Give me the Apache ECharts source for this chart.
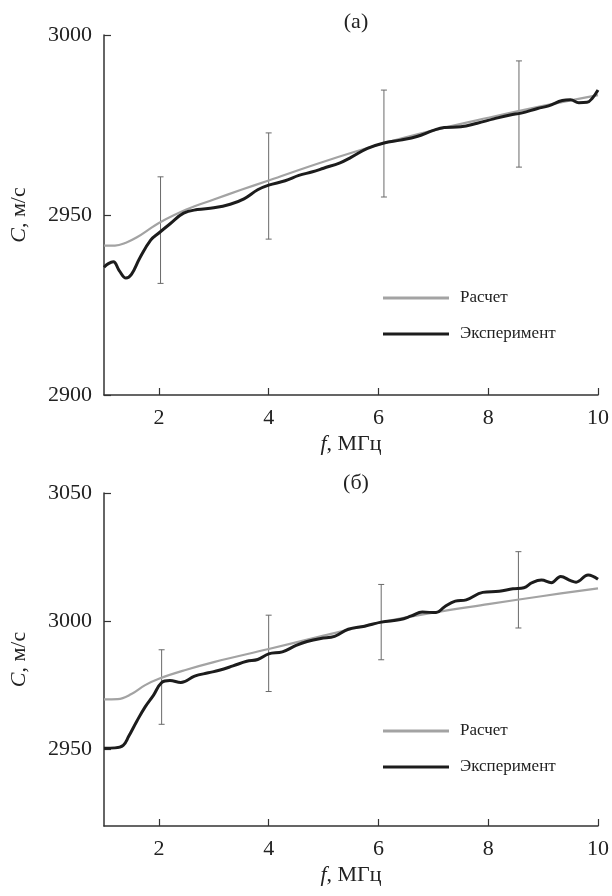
<!DOCTYPE html>
<html lang="ru">
<head>
    <meta charset="UTF-8">
    <title>C(f)</title>
    <script src="https://cdn.jsdelivr.net/npm/echarts@6/dist/echarts.min.js"></script>
    <style>
        body { margin: 0; background: #fff; }
        #chart { width: 612px; height: 896px; }
    </style>
</head>
<body>
    <div id="chart"></div>
    <script>
        // values: [f, C]
        const calcA = [[1, 2941.5], [1.2, 2941.5], [1.4, 2942.3], [1.6, 2943.8], [1.8, 2945.8], [2, 2947.8],
            [2.5, 2951.5], [3, 2954.3], [3.5, 2957], [4, 2959.6], [5, 2964.8], [6, 2969.5], [7, 2973.5],
            [8, 2977], [9, 2980.3], [10, 2983.3]];
        const expA = [[1, 2935.5], [1.08, 2936.5], [1.17, 2937], [1.28, 2934.5], [1.4, 2932.5], [1.5, 2933.5],
            [1.65, 2938], [1.85, 2943], [2, 2945], [2.2, 2947.5], [2.45, 2950.5], [2.7, 2951.5], [3, 2952],
            [3.3, 2953], [3.55, 2954.5], [3.8, 2957], [4, 2958.3], [4.3, 2959.5], [4.55, 2961], [4.8, 2962],
            [5, 2963], [5.3, 2964.5], [5.5, 2966], [5.8, 2968.5], [6.1, 2970], [6.4, 2970.8], [6.7, 2971.8],
            [7, 2973.5], [7.2, 2974.3], [7.5, 2974.5], [7.8, 2975.5], [8.1, 2976.7], [8.4, 2977.8], [8.6, 2978.3],
            [8.9, 2979.6], [9.1, 2980.3], [9.35, 2981.8], [9.5, 2982], [9.65, 2981.2], [9.8, 2981.3],
            [9.9, 2982.5], [10, 2984.7]];
        const calcB = [[1, 2969.4], [1.25, 2969.5], [1.5, 2971.5], [1.75, 2975], [2, 2977.5], [2.5, 2981],
            [3, 2984], [4, 2989.1], [5, 2994.3], [6, 2999.3], [7, 3003.3], [8, 3006.6], [9, 3009.8], [10, 3012.8]];
        const expB = [[1, 2950.4], [1.2, 2950.5], [1.35, 2951.5], [1.45, 2955], [1.6, 2961], [1.75, 2966.5],
            [1.9, 2971], [2.05, 2976], [2.2, 2976.8], [2.4, 2976], [2.65, 2978.5], [2.9, 2979.8], [3.1, 2980.8],
            [3.35, 2982.5], [3.6, 2984.3], [3.8, 2985], [4, 2987.2], [4.25, 2988], [4.5, 2990.5], [4.7, 2992],
            [4.95, 2993.2], [5.2, 2994], [5.45, 2996.8], [5.75, 2998], [6.05, 2999.6], [6.4, 3000.6], [6.6, 3002],
            [6.8, 3003.5], [7.05, 3003.3], [7.2, 3005.5], [7.4, 3007.8], [7.6, 3008.3], [7.9, 3011.2],
            [8.2, 3011.6], [8.45, 3012.6], [8.65, 3013], [8.8, 3015], [8.97, 3016], [9.15, 3015], [9.32, 3017.4],
            [9.5, 3015.8], [9.6, 3015.2], [9.82, 3018], [10, 3016.3]];

        // error bars: f, lower end, upper end
        const errFA = [2.03, 4.0, 6.1, 8.56];
        const errLowA = [2931, 2943.3, 2955, 2963.3];
        const errHighA = [2960.6, 2972.8, 2984.7, 2992.8];
        const errFB = [2.05, 4.0, 6.05, 8.55];
        const errLowB = [2959.7, 2972.5, 2984.9, 2997.3];
        const errHighB = [2988.8, 3002.3, 3014.3, 3027.1];

        const fTicks = [2, 4, 6, 8, 10];
        const names = ['Расчет', 'Эксперимент'];
        const font = 'Liberation Serif';

        const chart = echarts.init(document.getElementById('chart'));

        function errData(fs, lo, hi) {
            return fs.map((f, i) => [f, lo[i], hi[i]]);
        }

        function renderErr(params, api) {
            const a = api.coord([api.value(0), api.value(1)]);
            const b = api.coord([api.value(0), api.value(2)]);
            const st = { stroke: '#6a6a6a', lineWidth: 1 };
            return {
                type: 'group',
                children: [
                    { type: 'line', shape: { x1: a[0], y1: a[1], x2: b[0], y2: b[1] }, style: st },
                    { type: 'line', shape: { x1: a[0] - 3, y1: a[1], x2: a[0] + 3, y2: a[1] }, style: st },
                    { type: 'line', shape: { x1: b[0] - 3, y1: b[1], x2: b[0] + 3, y2: b[1] }, style: st }
                ]
            };
        }

        const axisLine = { lineStyle: { color: '#333', width: 1.5 } };
        const tick = { inside: true, length: 7, lineStyle: { color: '#333', width: 1.2 } };
        const label = { color: '#222', fontFamily: font, fontSize: 22, formatter: v => String(v) };
        const nameRich = {
            i: { fontFamily: font, fontSize: 22, fontStyle: 'italic', color: '#222' },
            n: { fontFamily: font, fontSize: 22, color: '#222' }
        };

        function xAxis(gi) {
            return {
                type: 'value', gridIndex: gi, min: 1, max: 10,
                name: '{i|f}{n|, МГц}', nameLocation: 'middle', nameGap: 38,
                nameTextStyle: { rich: nameRich },
                axisLine: axisLine,
                axisTick: Object.assign({ customValues: fTicks }, tick),
                axisLabel: Object.assign({ customValues: fTicks, margin: 12 }, label),
                splitLine: { show: false }
            };
        }

        function yAxis(gi, min, max, vals) {
            return {
                type: 'value', gridIndex: gi, min: min, max: max,
                name: '{i|C}{n|, м/с}', nameLocation: 'middle', nameGap: 74, nameRotate: 90,
                nameTextStyle: { rich: nameRich },
                axisLine: Object.assign({ show: true }, axisLine),
                axisTick: Object.assign({ customValues: vals }, tick),
                axisLabel: Object.assign({ customValues: vals, margin: 12 }, label),
                splitLine: { show: false }
            };
        }

        function legend(top) {
            return {
                data: [
                    { name: names[0], icon: 'rect', itemStyle: { color: '#a3a3a3' } },
                    { name: names[1], icon: 'rect', itemStyle: { color: '#1c1c1c' } }
                ],
                orient: 'vertical', left: 378, top: top,
                itemWidth: 66, itemHeight: 3, itemGap: 16,
                textStyle: { fontFamily: font, fontSize: 17, lineHeight: 20, color: '#222', padding: [0, 0, 0, 6] }
            };
        }

        const calcStyle = { color: '#a3a3a3', width: 2.2 };
        const expStyle = { color: '#1c1c1c', width: 3 };

        chart.setOption({
            animation: false,
            title: [
                { text: '(а)', left: 351, top: 6, textAlign: 'center', textStyle: { fontFamily: font, fontSize: 22, fontWeight: 'normal', color: '#222' } },
                { text: '(б)', left: 351, top: 467, textAlign: 'center', textStyle: { fontFamily: font, fontSize: 22, fontWeight: 'normal', color: '#222' } }
            ],
            legend: [legend(283), legend(716)],
            grid: [
                { left: 102, right: 12, top: 35, height: 360 },
                { left: 102, right: 12, top: 493, height: 333 }
            ],
            xAxis: [xAxis(0), xAxis(1)],
            yAxis: [yAxis(0, 2900, 3000, [2900, 2950, 3000]), yAxis(1, 2920, 3050, [2950, 3000, 3050])],
            series: [
                { type: 'custom', xAxisIndex: 0, yAxisIndex: 0, renderItem: renderErr, data: errData(errFA, errLowA, errHighA), z: 1 },
                { type: 'custom', xAxisIndex: 1, yAxisIndex: 1, renderItem: renderErr, data: errData(errFB, errLowB, errHighB), z: 1 },
                { name: names[0], type: 'line', xAxisIndex: 0, yAxisIndex: 0, data: calcA, symbol: 'none', smooth: 0.4, lineStyle: calcStyle, itemStyle: { color: calcStyle.color }, z: 2 },
                { name: names[1], type: 'line', xAxisIndex: 0, yAxisIndex: 0, data: expA, symbol: 'none', smooth: 0.4, lineStyle: expStyle, itemStyle: { color: expStyle.color }, z: 3 },
                { name: names[0], type: 'line', xAxisIndex: 1, yAxisIndex: 1, data: calcB, symbol: 'none', smooth: 0.4, lineStyle: calcStyle, itemStyle: { color: calcStyle.color }, z: 2 },
                { name: names[1], type: 'line', xAxisIndex: 1, yAxisIndex: 1, data: expB, symbol: 'none', smooth: 0.4, lineStyle: expStyle, itemStyle: { color: expStyle.color }, z: 3 }
            ]
        });
    </script>
</body>
</html>
